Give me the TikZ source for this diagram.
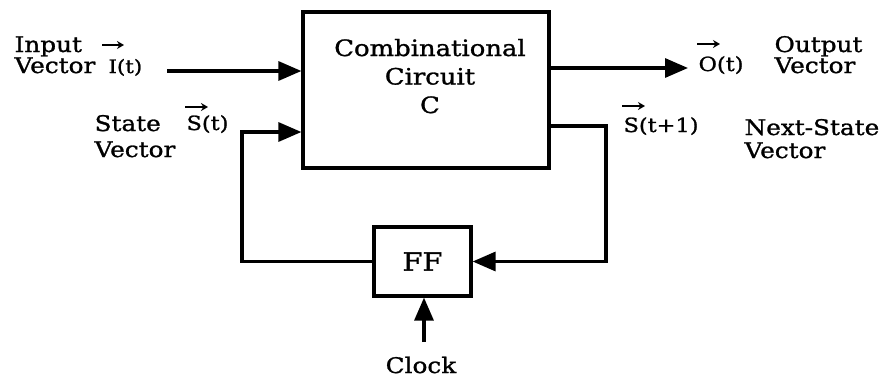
\documentclass[tikz,border=0pt]{standalone}
\usepackage{fontspec}
\setmainfont{DejaVu Serif}[FakeStretch=1.15,FakeBold=1.2]
\usetikzlibrary{arrows.meta}
\begin{document}
\begin{tikzpicture}[x=1pt,y=-1pt,
  line width=3.2pt,
  arr/.style={-{Triangle[length=23pt,width=19pt]}},
  vecarr/.style={line width=2.2pt,-{Stealth[length=7pt,width=8pt]}},
  box/.style={draw, line width=3.2pt, inner sep=0pt},
  lbl/.style={inner sep=0pt, align=left, anchor=base west},
  sym/.style={inner sep=0pt, anchor=base west, font=\fontsize{19.5}{21}\selectfont},
]
\useasboundingbox[fill=white] (0,0) rectangle (887,381);
% blocks
\node[box, minimum width=246pt, minimum height=156pt] (cc) at (426,90) {};
\node[inner sep=0pt, align=center, anchor=base, font=\fontsize{22.5}{28.5}\selectfont] (cct) at (430,113) {Combinational\\Circuit\\C};
\node[box, minimum width=97pt, minimum height=69pt, font=\fontsize{25}{26}\selectfont] (ff) at (422.5,261.5) {FF};
% connectors
\coordinate (inS) at (167,71);
\draw[arr] (inS) -- (inS -| cc.west);
\coordinate (sl) at (242,132);
\draw[arr] (ff.west) -| (sl) -- (sl -| cc.west);
\coordinate (sr) at (606,126);
\draw[arr] (sr -| cc.east) -- (sr) |- (ff.east);
\coordinate (outE) at (688,68);
\draw[arr] (outE -| cc.east) -- (outE);
\coordinate (clk) at (424,342);
\draw[arr] (clk) -- (clk |- ff.south);
% labels
\node[lbl, font=\fontsize{21.5}{21}\selectfont] (inl) at (13,73) {Input\\Vector};
\node[lbl, font=\fontsize{21.5}{26}\selectfont] (stl) at (93,157) {State\\Vector};
\node[lbl, font=\fontsize{21.5}{21}\selectfont] (outl) at (773,73) {Output\\Vector};
\node[lbl, font=\fontsize{21.5}{23}\selectfont] (nsl) at (743,158) {Next-State\\Vector};
\node[inner sep=0pt, anchor=base, font=\fontsize{21.5}{21}\selectfont] (clkl) at (421,373) {Clock};
% vector symbols
\node[sym, font=\fontsize{18.5}{19}\selectfont] (it) at (107,73) {I(t)};
\node[sym] (st) at (185,130) {S(t)};
\node[sym] (ot) at (697,71) {O(t)};
\node[sym] (st1) at (622,132) {S(t+1)};
\draw[vecarr] (it.base west) ++(-5,-28) -- ++(22,0);
\draw[vecarr] (st.base west) ++(0,-23) -- ++(23,0);
\draw[vecarr] (ot.base west) ++(0,-27) -- ++(23,0);
\draw[vecarr] (st1.base west) ++(0,-26) -- ++(23,0);
\end{tikzpicture}
\end{document}
